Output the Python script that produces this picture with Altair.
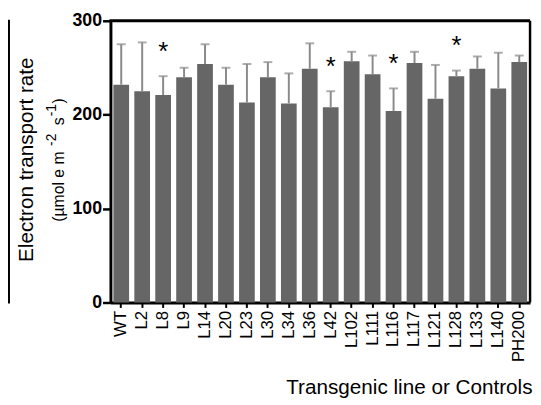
import altair as alt
import pandas as pd

lines = ["WT", "L2", "L8", "L9", "L14", "L20", "L23", "L30", "L34", "L36", "L42",
         "L102", "L111", "L116", "L117", "L121", "L128", "L133", "L140", "PH200"]
means = [232, 225, 221, 240, 254, 232, 213, 240, 212, 249, 208,
         257, 243, 204, 255, 217, 241, 249, 228, 256]
upper = [275, 277, 241, 250, 275, 250, 254, 256, 244, 276, 225,
         267, 263, 228, 267, 253, 247, 262, 266, 263]
starred = ["L8", "L42", "L116", "L128"]

df = pd.DataFrame({"line": lines, "mean": means, "upper": upper})
df["star"] = ["*" if l in starred else "" for l in lines]
df["star_y"] = df["upper"] + 30

FONT = "Liberation Sans"
W, H = 426, 286

xenc = alt.X("line:N", sort=lines,
             scale=alt.Scale(paddingInner=0.25, paddingOuter=0.14),
             axis=alt.Axis(title="Transgenic line or Controls", labelAngle=270,
                           labelAlign="right", labelBaseline="middle",
                           labelFont=FONT, labelFontSize=17, labelColor="black",
                           labelPadding=3,
                           tickSize=5, tickWidth=2, tickColor="black",
                           domainColor="black", domainWidth=3,
                           titleFont=FONT, titleFontSize=21, titleFontWeight="normal",
                           titleColor="black", titleAnchor="end", titleAlign="right",
                           titleBaseline="alphabetic", titleX=428, titleY=92))
yscale = alt.Scale(domain=[0, 300], nice=False)

bars = alt.Chart(df).mark_bar(color="#666666").encode(
    x=xenc,
    y=alt.Y("mean:Q", scale=yscale,
            axis=alt.Axis(title=None, values=[0, 100, 200, 300],
                          labelFont=FONT, labelFontSize=18, labelFontWeight="bold",
                          labelColor="black", labelPadding=1,
                          tickSize=8, tickWidth=2.5, tickColor="black",
                          domainColor="black", domainWidth=3, grid=False)),
)

err = alt.Chart(df).mark_rule(color="#8a8a8a", strokeWidth=2).encode(
    x=alt.X("line:N", sort=lines), y="mean:Q", y2="upper:Q")
caps = alt.Chart(df).mark_tick(color="#8a8a8a", thickness=2, size=9).encode(
    x=alt.X("line:N", sort=lines), y="upper:Q")
stars = alt.Chart(df).mark_text(font=FONT, fontSize=26, color="black",
                                baseline="middle", dy=4).encode(
    x=alt.X("line:N", sort=lines), y="star_y:Q", text="star:N")

one = pd.DataFrame({"a": [0]})


def rtext(txt, x, y, size, align="left", baseline="alphabetic"):
    return alt.Chart(one).mark_text(font=FONT, fontSize=size, angle=270, color="black",
                                    align=align, baseline=baseline).encode(
        x=alt.value(x), y=alt.value(y), text=alt.value(txt))


title1 = rtext("Electron transport rate", -79, 141, 21, align="center")
u1 = rtext("(µmol e m", -47, 204, 16)
u2 = rtext("-2", -55, 127, 14)
u3 = rtext("s", -47, 106, 16)
u4 = rtext("-1", -55, 97, 14)
u5 = rtext(")", -47, 84, 16)

top = alt.Chart(one).mark_rule(color="black", strokeWidth=3).encode(
    x=alt.value(-1), x2=alt.value(W), y=alt.value(0))
right = alt.Chart(one).mark_rule(color="black", strokeWidth=2.5).encode(
    x=alt.value(W), y=alt.value(0), y2=alt.value(H))
edge = alt.Chart(one).mark_rule(color="black", strokeWidth=2).encode(
    x=alt.value(-103), y=alt.value(-1), y2=alt.value(287))

chart = alt.layer(bars, err, caps, stars, title1, u1, u2, u3, u4, u5,
                  top, right, edge).properties(
    width=W, height=H,
    background="white",
    autosize=alt.AutoSizeParams(type="none"),
    padding={"left": 104, "top": 10, "right": 3, "bottom": 97},
).configure_view(strokeWidth=0)

chart.save("out.html", embed_options={"renderer": "svg", "actions": False})
